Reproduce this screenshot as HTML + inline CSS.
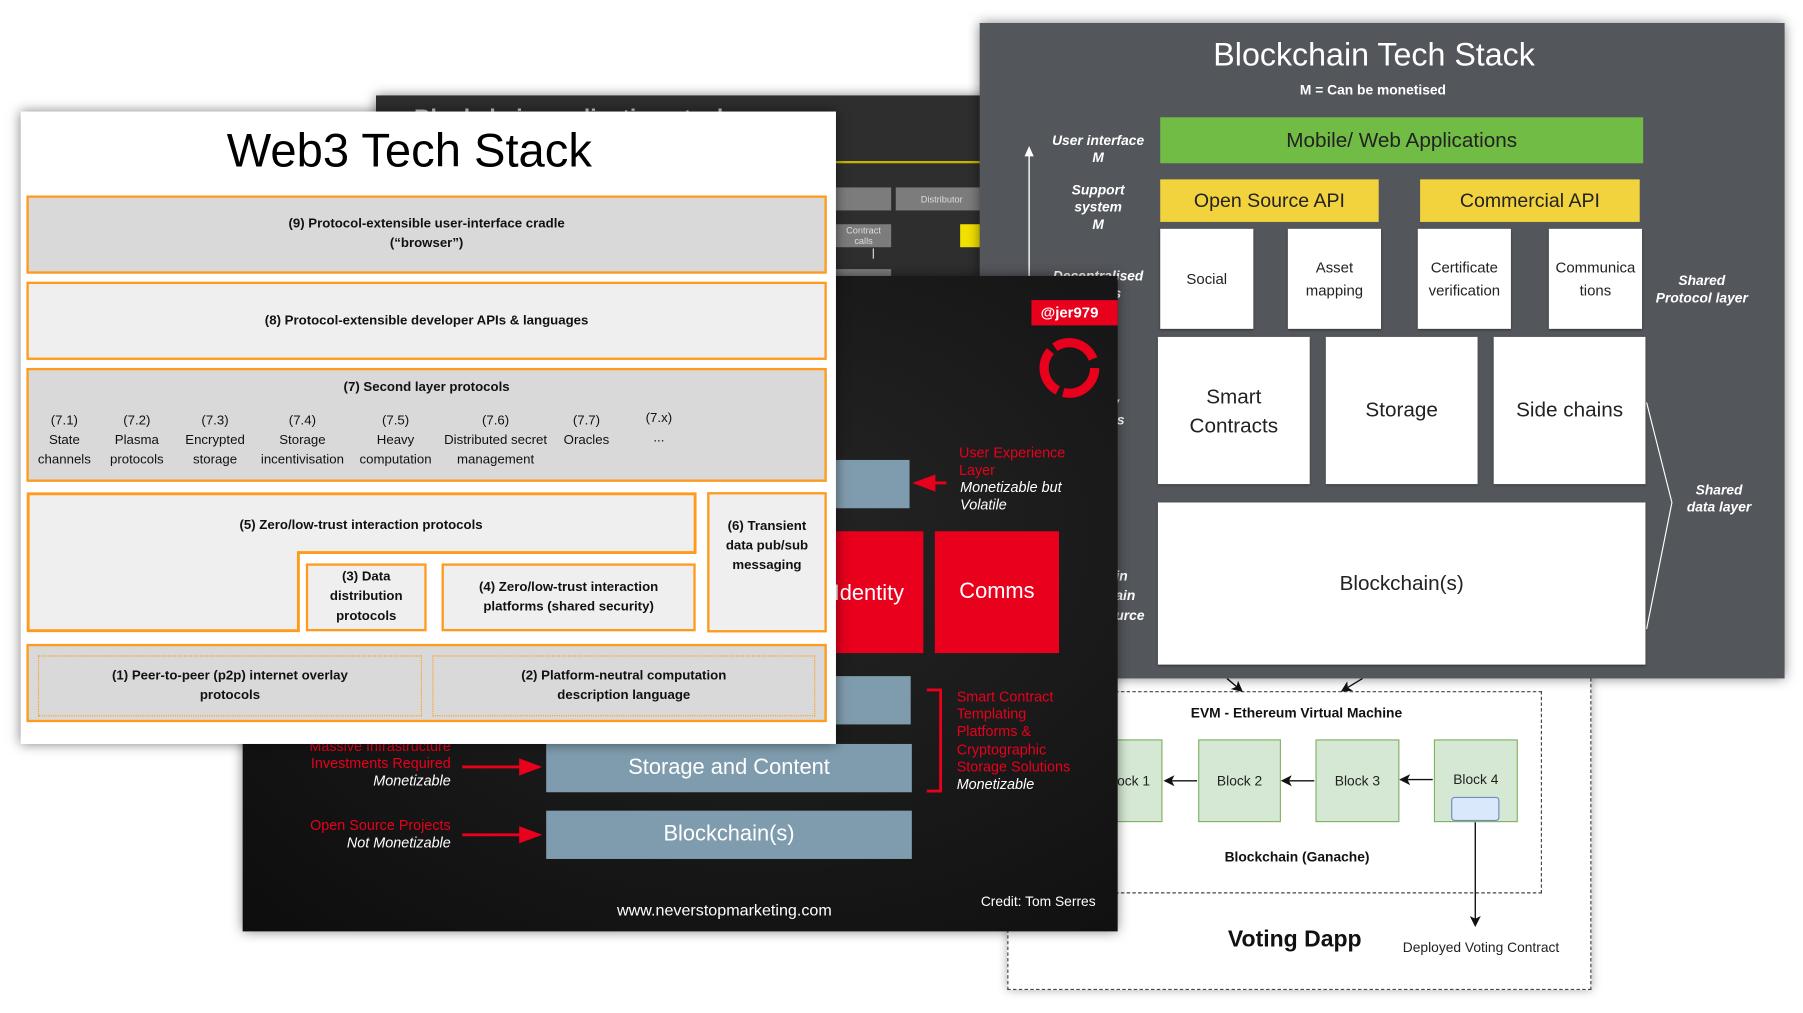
<!DOCTYPE html>
<html><head><meta charset="utf-8"><style>
html,body{margin:0;padding:0;background:#fff;width:1803px;height:1013px;overflow:hidden}
#s{position:absolute;left:0;top:0;width:1568px;height:881px;transform:scale(1.14987);transform-origin:0 0;font-family:"Liberation Sans",sans-serif}
.a{position:absolute;box-sizing:border-box}
.c{display:flex;align-items:center;justify-content:center;text-align:center}
.ob{border:2.5px solid #ff9a1a}
.b{font-weight:bold;font-size:11.5px;color:#111;line-height:17px}
.it{font-style:italic;font-weight:bold;color:#fff;font-size:12px;text-align:center;line-height:15px}
.wb{background:#fff;color:#222;box-shadow:0 1px 2px rgba(0,0,0,.4)}
.red{color:#e8001c}
.gr{background:#d5e8d4;border:1.5px solid #82b366;font-size:12px;color:#222}
</style></head><body><div id="s">

<!-- Panel A dark -->
<div class="a" style="left:327px;top:83px;width:540px;height:170px;background:#2e2e2e;box-shadow:0 0 10px rgba(0,0,0,.5)"></div>
<div class="a" style="left:360px;top:92px;color:#ccc;font-size:20px;font-weight:bold">Blockchain application stack</div>
<div class="a" style="left:727px;top:140px;width:130px;height:2px;background:#c8b400"></div>
<div class="a" style="left:727px;top:163px;width:48px;height:20px;background:#7c7c7c"></div>
<div class="a c" style="left:779px;top:163px;width:80px;height:20px;background:#7c7c7c;color:#ddd;font-size:8px">Distributor</div>
<div class="a c" style="left:727px;top:195px;width:48px;height:20px;background:#7c7c7c;color:#ddd;font-size:8px">Contract calls</div>
<div class="a" style="left:835px;top:195px;width:20px;height:20px;background:#f2e000"></div>
<div class="a" style="left:759px;top:216px;width:1px;height:9px;background:#ddd"></div>
<div class="a" style="left:727px;top:234px;width:48px;height:10px;background:#7c7c7c"></div>

<!-- Panel C Voting Dapp -->
<div class="a" style="left:876px;top:560px;width:508px;height:301px;background:#fff;border:1.5px dashed #444;box-shadow:0 0 8px rgba(0,0,0,.35)"></div>
<div class="a" style="left:940px;top:601px;width:401px;height:176px;border:1.5px dashed #444"></div>
<svg class="a" style="left:0;top:0" width="1568" height="881">
<defs><marker id="ar" markerWidth="8" markerHeight="8" refX="7" refY="4" orient="auto"><path d="M0,0 L8,4 L0,8 L2,4z" fill="#111"/></marker></defs>
<line x1="1067" y1="590" x2="1080" y2="601" stroke="#111" stroke-width="1.2" marker-end="url(#ar)"/>
<line x1="1185" y1="590" x2="1167" y2="601" stroke="#111" stroke-width="1.2" marker-end="url(#ar)"/>
<line x1="1041" y1="679" x2="1013" y2="679" stroke="#111" stroke-width="1.2" marker-end="url(#ar)"/>
<line x1="1143" y1="679" x2="1115" y2="679" stroke="#111" stroke-width="1.2" marker-end="url(#ar)"/>
<line x1="1246" y1="678" x2="1218" y2="678" stroke="#111" stroke-width="1.2" marker-end="url(#ar)"/>
<line x1="1283" y1="713" x2="1283" y2="805" stroke="#111" stroke-width="1.2" marker-end="url(#ar)"/>
</svg>
<div class="a c b" style="left:1000px;top:612px;width:255px;font-size:12px">EVM - Ethereum Virtual Machine</div>
<div class="a c gr" style="left:950px;top:643px;width:61px;height:72px">Block 1</div>
<div class="a c gr" style="left:1042px;top:643px;width:72px;height:72px">Block 2</div>
<div class="a c gr" style="left:1144px;top:643px;width:73px;height:72px">Block 3</div>
<div class="a c gr" style="left:1247px;top:643px;width:73px;height:72px;align-items:flex-start;padding-top:27px">Block 4</div>
<div class="a" style="left:1262px;top:693px;width:42px;height:21px;background:#dae8fc;border:1.2px solid #6c8ebf;border-radius:3px"></div>
<div class="a c b" style="left:1040px;top:737px;width:176px;font-size:12px">Blockchain (Ganache)</div>
<div class="a c" style="left:1040px;top:806px;width:172px;font-size:20px;font-weight:bold;color:#111">Voting Dapp</div>
<div class="a c" style="left:1208px;top:817px;width:160px;font-size:12px;color:#222">Deployed Voting Contract</div>

<!-- Panel D gray -->
<div class="a" style="left:852px;top:20px;width:700px;height:570px;background:#53565b;box-shadow:0 0 10px rgba(0,0,0,.5)"></div>
<div class="a c" style="left:1000px;top:32px;width:390px;color:#fff;font-size:28px">Blockchain Tech Stack</div>
<div class="a c" style="left:1094px;top:71px;width:200px;color:#fff;font-size:12px;font-weight:bold">M = Can be monetised</div>
<svg class="a" style="left:0;top:0" width="1568" height="881">
<line x1="895" y1="134" x2="895" y2="240" stroke="#fff" stroke-width="1.2"/><path d="M891,136 L895,127 L899,136z" fill="#fff"/>
<path d="M1432,350 L1454,437 L1432,547" fill="none" stroke="#fff" stroke-width="1"/>
</svg>
<div class="a it" style="left:905px;top:115px;width:100px">User interface<br>M</div>
<div class="a it" style="left:905px;top:158px;width:100px">Support<br>system<br>M</div>
<div class="a it" style="left:905px;top:233px;width:100px">Decentralised<br>&nbsp;&nbsp;&nbsp;&nbsp;&nbsp;&nbsp;&nbsp;&nbsp;&nbsp;ls</div>
<div class="a it" style="left:960px;top:343px;width:40px;text-align:left">ay<br>rks</div>
<div class="a it" style="left:970px;top:493px;width:40px;text-align:left;line-height:17px">in<br>ain<br>urce</div>
<div class="a c" style="left:1009px;top:102px;width:420px;height:40px;background:#71bc44;color:#222;font-size:18px">Mobile/ Web Applications</div>
<div class="a c" style="left:1009px;top:156px;width:190px;height:37px;background:#f2d33e;color:#222;font-size:17px">Open Source API</div>
<div class="a c" style="left:1235px;top:156px;width:191px;height:37px;background:#f2d33e;color:#222;font-size:17px">Commercial API</div>
<div class="a c wb" style="left:1009px;top:199px;width:81px;height:87px;font-size:13px">Social</div>
<div class="a c wb" style="left:1120px;top:199px;width:81px;height:87px;font-size:13px;line-height:20px">Asset<br>mapping</div>
<div class="a c wb" style="left:1233px;top:199px;width:81px;height:87px;font-size:13px;line-height:20px">Certificate<br>verification</div>
<div class="a c wb" style="left:1347px;top:199px;width:81px;height:87px;font-size:13px;line-height:20px">Communica<br>tions</div>
<div class="a it" style="left:1435px;top:237px;width:90px">Shared<br>Protocol layer</div>
<div class="a c wb" style="left:1007px;top:293px;width:132px;height:128px;font-size:18px;line-height:25px;align-items:flex-start;padding-top:40px">Smart<br>Contracts</div>
<div class="a c wb" style="left:1153px;top:293px;width:132px;height:128px;font-size:18px;align-items:flex-start;padding-top:53px">Storage</div>
<div class="a c wb" style="left:1299px;top:293px;width:132px;height:128px;font-size:18px;align-items:flex-start;padding-top:53px">Side chains</div>
<div class="a c wb" style="left:1007px;top:437px;width:424px;height:141px;font-size:18px">Blockchain(s)</div>
<div class="a it" style="left:1455px;top:419px;width:80px">Shared<br>data layer</div>

<!-- Panel B black -->
<div class="a" style="left:211px;top:240px;width:761px;height:570px;background:radial-gradient(ellipse at 60% 40%,#252525,#0d0d0d);box-shadow:0 0 10px rgba(0,0,0,.5)"></div>
<div class="a" style="left:897px;top:261px;width:75px;height:22px;background:#e8001c;color:#fff;font-weight:bold;font-size:13px;padding:3px 0 0 8px">@jer979</div>
<svg class="a" style="left:900px;top:292px" width="60" height="60"><circle cx="30" cy="28" r="22" fill="none" stroke="#e8001c" stroke-width="8" stroke-dasharray="40 5 40 5 40 8"/></svg>
<div class="a" style="left:727px;top:400px;width:64px;height:42px;background:#7f9cae"></div>
<svg class="a" style="left:0;top:0" width="1568" height="881">
<defs><marker id="rr" markerWidth="8" markerHeight="8" refX="7" refY="4" orient="auto"><path d="M0,1 L8,4 L0,7z" fill="#e8001c"/></marker></defs>
<line x1="823" y1="420" x2="796" y2="420" stroke="#e8001c" stroke-width="2.5" marker-end="url(#rr)"/>
<line x1="402" y1="667" x2="469" y2="667" stroke="#e8001c" stroke-width="2.5" marker-end="url(#rr)"/>
<line x1="402" y1="726" x2="469" y2="726" stroke="#e8001c" stroke-width="2.5" marker-end="url(#rr)"/>
<path d="M806,600 L818,600 L818,688 L806,688" fill="none" stroke="#e8001c" stroke-width="2.5"/>
</svg>
<div class="a red" style="left:834px;top:387px;font-size:12.5px;line-height:15px">User Experience<br>Layer</div>
<div class="a" style="left:835px;top:417px;font-size:12.5px;line-height:15px;color:#fff;font-style:italic">Monetizable but<br>Volatile</div>
<div class="a" style="left:700px;top:462px;width:103px;height:106px;background:#e8001c;color:#fff;font-size:19px;padding:44px 0 0 25px">Identity</div>
<div class="a c" style="left:813px;top:462px;width:108px;height:106px;background:#e8001c;color:#fff;font-size:19px">Comms</div>
<div class="a" style="left:727px;top:588px;width:65px;height:42px;background:#7f9cae"></div>
<div class="a c" style="left:475px;top:647px;width:318px;height:42px;background:#7f9cae;color:#fff;font-size:19px">Storage and Content</div>
<div class="a c" style="left:475px;top:705px;width:318px;height:42px;background:#7f9cae;color:#fff;font-size:19px">Blockchain(s)</div>
<div class="a red" style="left:832px;top:599px;font-size:12.5px;line-height:15.2px">Smart Contract<br>Templating<br>Platforms &amp;<br>Cryptographic<br>Storage Solutions</div>
<div class="a" style="left:832px;top:675px;font-size:12.5px;color:#fff;font-style:italic">Monetizable</div>
<div class="a" style="left:200px;top:642px;width:192px;text-align:right;font-size:12.5px;line-height:15px"><span class="red">Massive Infrastructure<br>Investments Required</span><br><i style="color:#fff">Monetizable</i></div>
<div class="a" style="left:200px;top:711px;width:192px;text-align:right;font-size:12.5px;line-height:15px"><span class="red">Open Source Projects</span><br><i style="color:#fff">Not Monetizable</i></div>
<div class="a c" style="left:500px;top:783px;width:260px;color:#fff;font-size:14px">www.neverstopmarketing.com</div>
<div class="a" style="left:853px;top:777px;color:#fff;font-size:12px">Credit: Tom Serres</div>

<!-- Panel E Web3 -->
<div class="a" style="left:18px;top:97px;width:709px;height:550px;background:#fff;box-shadow:0 0 10px rgba(0,0,0,.5)"></div>
<div class="a c" style="left:100px;top:108px;width:512px;font-size:41px;color:#000">Web3 Tech Stack</div>
<div class="a c ob b" style="left:23px;top:170px;width:696px;height:68px;background:#d9d9d9">(9) Protocol-extensible user-interface cradle<br>(“browser”)</div>
<div class="a c ob b" style="left:23px;top:245px;width:696px;height:68px;background:#efefef">(8) Protocol-extensible developer APIs &amp; languages</div>
<div class="a ob b" style="left:23px;top:320px;width:696px;height:99px;background:#d9d9d9"></div>
<div class="a c b" style="left:23px;top:329px;width:696px">(7) Second layer protocols</div>
<div class="a" style="left:0;top:358px;font-size:11.5px;line-height:17px;color:#111">
<div class="a c" style="left:26px;width:60px">(7.1)<br>State<br>channels</div>
<div class="a c" style="left:89px;width:60px">(7.2)<br>Plasma<br>protocols</div>
<div class="a c" style="left:152px;width:70px">(7.3)<br>Encrypted<br>storage</div>
<div class="a c" style="left:222px;width:82px">(7.4)<br>Storage<br>incentivisation</div>
<div class="a c" style="left:306px;width:76px">(7.5)<br>Heavy<br>computation</div>
<div class="a c" style="left:380px;width:102px">(7.6)<br>Distributed secret<br>management</div>
<div class="a c" style="left:484px;width:52px">(7.7)<br>Oracles</div>
<div class="a c" style="left:548px;width:50px;top:-2px">(7.x)<br>...</div>
</div>
<svg class="a" style="left:0;top:0" width="1568" height="881">
<path d="M24.5,429.5 L604.5,429.5 L604.5,480.5 L259.5,480.5 L259.5,548.5 L24.5,548.5 Z" fill="#efefef" stroke="#ff9a1a" stroke-width="2.5"/>
</svg>
<div class="a c b" style="left:23px;top:449px;width:582px">(5) Zero/low-trust interaction protocols</div>
<div class="a c ob b" style="left:266px;top:490px;width:105px;height:59px;background:#efefef">(3) Data<br>distribution<br>protocols</div>
<div class="a c ob b" style="left:384px;top:490px;width:221px;height:59px;background:#efefef">(4) Zero/low-trust interaction<br>platforms (shared security)</div>
<div class="a c ob b" style="left:615px;top:428px;width:104px;height:122px;background:#efefef;padding-bottom:28px">(6) Transient<br>data pub/sub<br>messaging</div>
<div class="a ob" style="left:23px;top:560px;width:696px;height:68px;background:#d9d9d9"></div>
<div class="a c b" style="left:33px;top:570px;width:334px;height:53px;border:1px dotted #ff9a1a">(1) Peer-to-peer (p2p) internet overlay<br>protocols</div>
<div class="a c b" style="left:376px;top:570px;width:333px;height:53px;border:1px dotted #ff9a1a">(2) Platform-neutral computation<br>description language</div>

</div></body></html>
